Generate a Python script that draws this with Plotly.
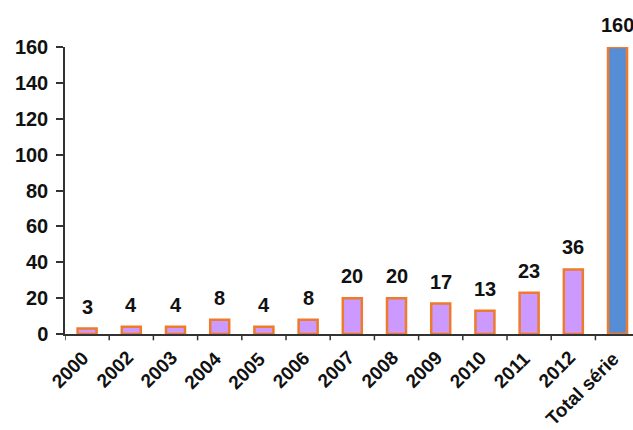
import plotly.graph_objects as go

categories = ["2000", "2002", "2003", "2004", "2005", "2006", "2007",
              "2008", "2009", "2010", "2011", "2012", "Total série"]
values = [3, 4, 4, 8, 4, 8, 20, 20, 17, 13, 23, 36, 160]
y_ticks = [0, 20, 40, 60, 80, 100, 120, 140, 160]

purple = "#CC99FF"
blue = "#558ED5"
orange = "#EE7A2C"

fill_colors = [blue if c == "Total série" else purple for c in categories]

font_main = dict(family="Liberation Sans, Arial, sans-serif", size=20, color="#111111")
font_cat = dict(family="Liberation Sans, Arial, sans-serif", size=19, color="#111111")

fig = go.Figure()
fig.add_trace(go.Bar(
    x=list(range(len(categories))),
    y=values,
    width=0.43,
    marker=dict(color=fill_colors, line=dict(color=orange, width=2.5)),
    hoverinfo="skip",
))

# value labels above each bar
for i, v in enumerate(values):
    fig.add_annotation(
        x=i, y=v, text=f"<b>{v}</b>", showarrow=False,
        yanchor="bottom", yshift=9, font=font_main,
    )

# rotated category labels under the axis
for i, c in enumerate(categories):
    fig.add_annotation(
        x=i, xref="x", y=0, yref="paper", text=f"<b>{c}</b>",
        showarrow=False, textangle=-45, borderpad=0,
        xanchor="right", yanchor="top", xshift=7, yshift=-12,
        font=font_cat,
    )

fig.update_layout(
    width=633, height=430,
    margin=dict(l=65, r=0, t=47, b=96),
    paper_bgcolor="white", plot_bgcolor="white",
    showlegend=False,
)
fig.update_xaxes(
    range=[-0.5, 12.35],
    showticklabels=False,
    showline=True, linecolor="#333333", linewidth=1.5,
    ticks="", showgrid=False, zeroline=False,
)
# boundary tick marks between categories
for k in range(len(categories)):
    fig.add_shape(
        type="line", xref="x", yref="paper",
        x0=k - 0.5, x1=k - 0.5, y0=0, y1=-0.022,
        line=dict(color="#333333", width=1.5),
    )
fig.update_yaxes(
    range=[0, 160],
    tickmode="array", tickvals=y_ticks,
    ticktext=[f"<b>{t}</b>" for t in y_ticks],
    tickfont=font_main,
    showline=True, linecolor="#333333", linewidth=1.5,
    ticks="outside", ticklen=7, tickcolor="#333333", tickwidth=1.5,
    ticklabelstandoff=4,
    showgrid=False, zeroline=False,
)

fig.write_html("out.html")
